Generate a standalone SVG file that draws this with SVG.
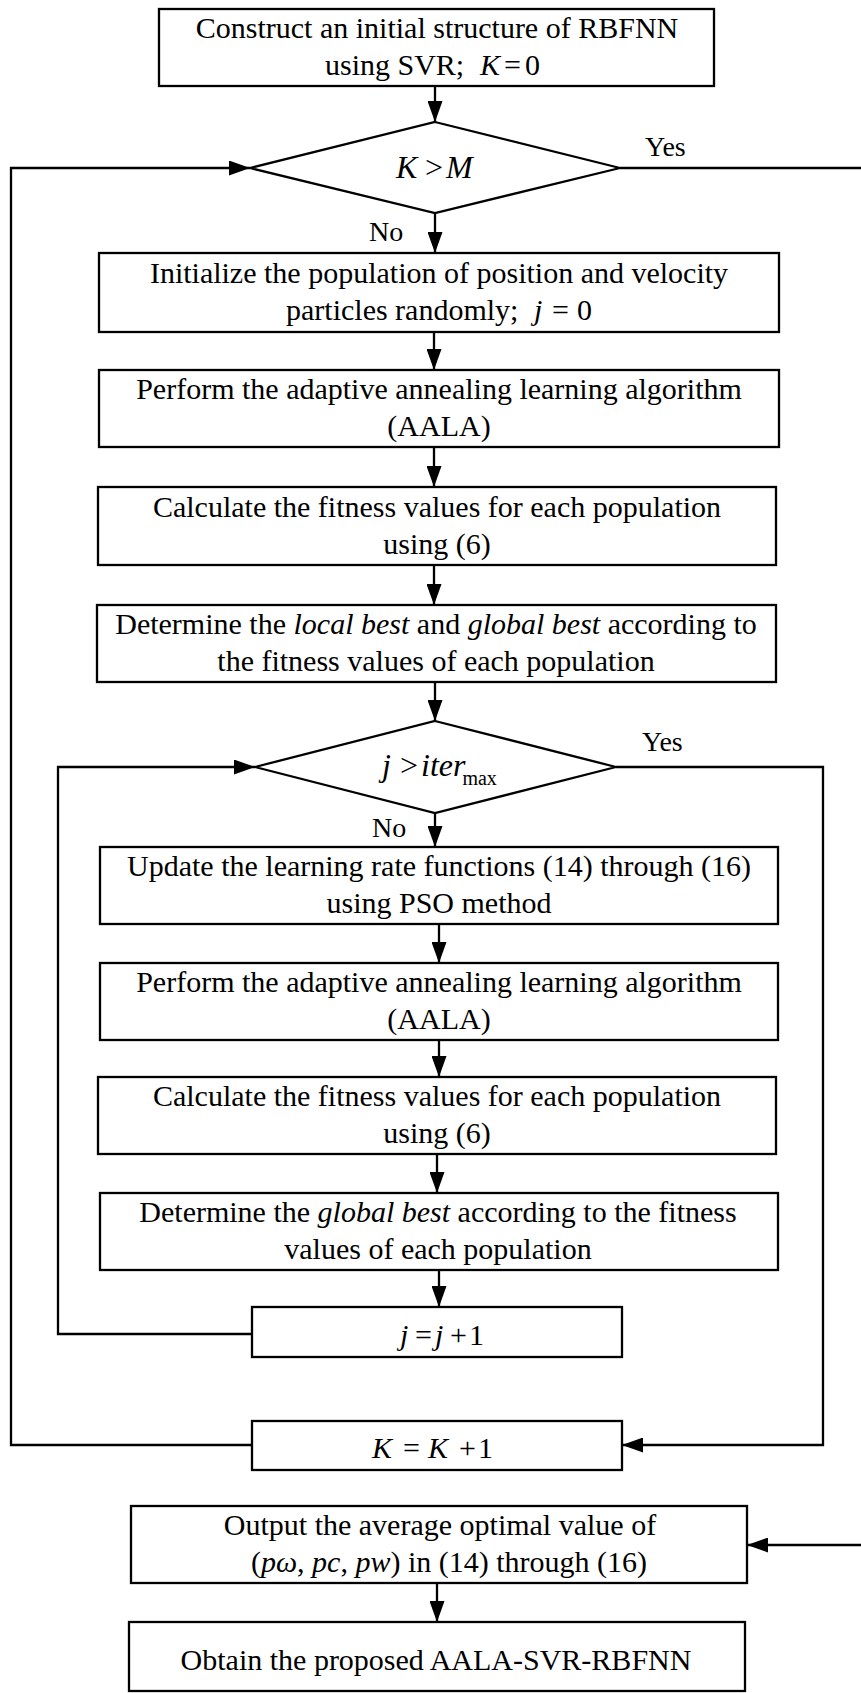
<svg xmlns="http://www.w3.org/2000/svg" width="861" height="1693" viewBox="0 0 861 1693">
<style>
.box{fill:#fff;stroke:#000;stroke-width:2.3}
.c{fill:none;stroke:#000;stroke-width:2.3}
.t{font-family:"Liberation Serif","Times New Roman",serif;font-size:30px;text-anchor:middle;fill:#000}
.s{text-anchor:start}
.i{font-style:italic}
.lb{font-family:"Liberation Serif","Times New Roman",serif;font-size:28px;fill:#000}
</style>
<defs>
<marker id="ah" viewBox="0 0 21 15" refX="21" refY="7.5" markerWidth="21" markerHeight="15" markerUnits="userSpaceOnUse" orient="auto">
<path d="M0,0 L21,7.5 L0,15 z" fill="#000"/>
</marker>
</defs>
<rect width="861" height="1693" fill="#fff"/>
<g id="connectors">
<path class="c" d="M435,86 V122" marker-end="url(#ah)"/>
<path class="c" d="M435,213 V253" marker-end="url(#ah)"/>
<path class="c" d="M434,332 V370" marker-end="url(#ah)"/>
<path class="c" d="M434,447 V487" marker-end="url(#ah)"/>
<path class="c" d="M434,565 V605" marker-end="url(#ah)"/>
<path class="c" d="M435,682 V721" marker-end="url(#ah)"/>
<path class="c" d="M435,813 V847" marker-end="url(#ah)"/>
<path class="c" d="M439,924 V963" marker-end="url(#ah)"/>
<path class="c" d="M439,1040 V1077" marker-end="url(#ah)"/>
<path class="c" d="M437,1154 V1193" marker-end="url(#ah)"/>
<path class="c" d="M439,1270 V1307" marker-end="url(#ah)"/>
<path class="c" d="M252,1334 H58 V767 H255" marker-end="url(#ah)"/>
<path class="c" d="M616,767 H823 V1445 H622" marker-end="url(#ah)"/>
<path class="c" d="M252,1445 H11 V168 H250" marker-end="url(#ah)"/>
<path class="c" d="M620,168 H880 V1545 H747" marker-end="url(#ah)"/>
<path class="c" d="M437,1583 V1622" marker-end="url(#ah)"/>
<text class="lb" x="645" y="156">Yes</text>
<text class="lb" x="369" y="241">No</text>
<text class="lb" x="642" y="751">Yes</text>
<text class="lb" x="372" y="837">No</text>
</g>
<g id="n1">
<rect class="box" x="159" y="9" width="555" height="77"/>
<text class="t" x="437" y="38">Construct an initial structure of RBFNN</text>
<text class="t s" y="75"><tspan x="325">using SVR;</tspan><tspan x="480" class="i">K</tspan><tspan x="504">=</tspan><tspan x="525">0</tspan></text>
</g>
<g id="d1">
<polygon class="box" points="435,122 620,168 435,213 250,168"/>
<text class="t s" y="178" style="font-size:32px"><tspan x="396" class="i">K</tspan><tspan x="425">&gt;</tspan><tspan x="446" class="i">M</tspan></text>
</g>
<g id="n2">
<rect class="box" x="99" y="253" width="680" height="79"/>
<text class="t" x="439" y="283">Initialize the population of position and velocity</text>
<text class="t s" y="320"><tspan x="286">particles randomly;</tspan><tspan x="534" class="i">j</tspan><tspan x="552">=</tspan><tspan x="577">0</tspan></text>
</g>
<g id="n3">
<rect class="box" x="99" y="370" width="680" height="77"/>
<text class="t" x="439" y="399">Perform the adaptive annealing learning algorithm</text>
<text class="t" x="439" y="436">(AALA)</text>
</g>
<g id="n4">
<rect class="box" x="98" y="487" width="678" height="78"/>
<text class="t" x="437" y="516.5">Calculate the fitness values for each population</text>
<text class="t" x="437" y="553.5">using (6)</text>
</g>
<g id="n5">
<rect class="box" x="97" y="605" width="679" height="77"/>
<text class="t" x="436" y="634">Determine the <tspan class="i">local best</tspan> and <tspan class="i">global best</tspan> according to</text>
<text class="t" x="436" y="671">the fitness values of each population</text>
</g>
<g id="d2">
<polygon class="box" points="435,721 616,767 435,813 255,767"/>
<text class="t s" y="776" style="font-size:32px"><tspan x="382" class="i">j</tspan><tspan x="400">&gt;</tspan><tspan x="421" class="i">iter</tspan><tspan dx="-3" dy="9" style="font-size:20px">max</tspan></text>
</g>
<g id="n6">
<rect class="box" x="100" y="847" width="678" height="77"/>
<text class="t" x="439" y="876">Update the learning rate functions (14) through (16)</text>
<text class="t" x="439" y="913">using PSO method</text>
</g>
<g id="n7">
<rect class="box" x="100" y="963" width="678" height="77"/>
<text class="t" x="439" y="992">Perform the adaptive annealing learning algorithm</text>
<text class="t" x="439" y="1029">(AALA)</text>
</g>
<g id="n8">
<rect class="box" x="98" y="1077" width="678" height="77"/>
<text class="t" x="437" y="1106">Calculate the fitness values for each population</text>
<text class="t" x="437" y="1143">using (6)</text>
</g>
<g id="n9">
<rect class="box" x="100" y="1193" width="678" height="77"/>
<text class="t" x="438" y="1222">Determine the <tspan class="i">global best</tspan> according to the fitness</text>
<text class="t" x="438" y="1259">values of each population</text>
</g>
<g id="n10">
<rect class="box" x="252" y="1307" width="370" height="50"/>
<text class="t s" y="1345"><tspan x="400" class="i">j</tspan><tspan x="415">=</tspan><tspan x="435" class="i">j</tspan><tspan x="450">+</tspan><tspan x="469">1</tspan></text>
</g>
<g id="n11">
<rect class="box" x="252" y="1421" width="370" height="49"/>
<text class="t s" y="1458"><tspan x="372" class="i">K</tspan><tspan x="403">=</tspan><tspan x="428" class="i">K</tspan><tspan x="459">+</tspan><tspan x="478">1</tspan></text>
</g>
<g id="n12">
<rect class="box" x="131" y="1506" width="616" height="77"/>
<text class="t" x="440" y="1535">Output the average optimal  value of</text>
<text class="t" x="449" y="1572">(<tspan class="i">pω</tspan>, <tspan class="i">pc</tspan>, <tspan class="i">pw</tspan>) in (14) through (16)</text>
</g>
<g id="n13">
<rect class="box" x="129" y="1622" width="616" height="69"/>
<text class="t" x="436" y="1670">Obtain the proposed AALA-SVR-RBFNN</text>
</g>
</svg>
